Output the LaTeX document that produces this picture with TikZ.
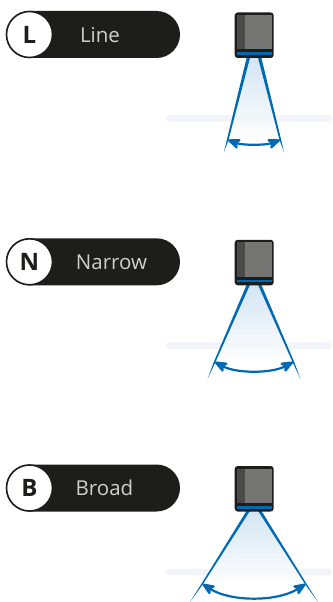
\documentclass[tikz,border=0pt]{standalone}
\usepackage{fontspec}
\setmainfont{Open Sans}
\usetikzlibrary{arrows.meta}
\definecolor{pilldark}{HTML}{1D1D1B}
\definecolor{pilltext}{HTML}{CFCFCD}
\definecolor{beamblue}{HTML}{0069B4}
\definecolor{beamlight}{HTML}{CBE0F0}
\definecolor{bandgrey}{HTML}{F3F4F9}
\definecolor{camdark}{HTML}{4A4A49}
\definecolor{camgrey}{HTML}{757574}
\tikzset{
  pill/.style={draw=none,fill=pilldark,rounded corners=23.5pt,minimum width=174pt,minimum height=47pt,inner sep=0pt},
  badge/.style={circle,draw=pilldark,line width=1.6pt,fill=white,minimum size=46pt,inner sep=0pt,font=\fontsize{24}{24}\selectfont\bfseries,text=pilldark},
  pilllabel/.style={text=pilltext,font=\fontsize{20.5}{21}\selectfont,inner sep=0pt},
  band/.style={fill=bandgrey,rounded corners=3pt},
  sweep/.style={draw=beamblue,line width=2.2pt,{Stealth[length=15pt,width=12pt,inset=3.5pt,round]}-{Stealth[length=15pt,width=12pt,inset=3.5pt,round]}}
}
% #1 y offset, #2 node prefix, #3 badge letter,
% #4 beam half-width at its end, #5 beam end y, #6 arc half-width, #7 arc end y, #8 arc middle y
\newcommand{\sensorrow}[8]{%
  \node[pill] (#2pill) at (93,{#1+34.5}) {};
  \node[badge] (#2badge) at (29.5,{#1+34.5}) {#3};
  % band behind the beam
  \fill[band] (166,{#1+115}) rectangle (332,{#1+121.5});
  % beam
  \path[top color=beamlight,bottom color=white,fill opacity=.85]
    (248,{#1+57}) -- (260,{#1+57}) -- ({254+#6},#7) -- ({254-#6},#7) -- cycle;
  % beam edges, tapering
  \fill[beamblue] (246.8,{#1+57}) -- (250.2,{#1+57}) -- ({254-#6+1},#7) -- ({254-#4},#5) -- ({254-#6-.7},#7) -- cycle;
  \fill[beamblue] (257.8,{#1+57}) -- (261.2,{#1+57}) -- ({254+#6+.7},#7) -- ({254+#4},#5) -- ({254+#6-1},#7) -- cycle;
  % camera
  \fill[pilldark,rounded corners=3pt] (234.7,{#1+12.5}) rectangle (273.7,{#1+58});
  \fill[camgrey] (237,{#1+15}) rectangle (271.7,{#1+49.5});
  \fill[camdark] (237,{#1+15}) rectangle (245,{#1+49.5});
  \fill[beamblue] (237,{#1+52.2}) rectangle (271.5,{#1+55});
  % angle arrow
  \coordinate (#2a) at ({254-#6+.5},#7);
  \coordinate (#2b) at ({254+#6-.5},#7);
  \draw[sweep] (#2a) .. controls ({254-#6*.45},{#8+(#8-#7)*.33}) and ({254+#6*.45},{#8+(#8-#7)*.33}) .. (#2b);
}
\begin{document}
\begin{tikzpicture}[x=1pt,y=-1pt]
\useasboundingbox (0,0) rectangle (332,602);
\sensorrow{0}{l}{L}{30}{152}{26.5}{140}{144}
\node[pilllabel] (llabel) at (100,35) {Line};
\sensorrow{227.3}{n}{N}{46.5}{379}{39.5}{362}{370.7}
\node[pilllabel] (nlabel) at (111.5,262) {Narrow};
\sensorrow{453.5}{b}{B}{64}{602}{52}{584}{597.5}
\node[pilllabel] (blabel) at (104.5,488) {Broad};
\end{tikzpicture}
\end{document}
